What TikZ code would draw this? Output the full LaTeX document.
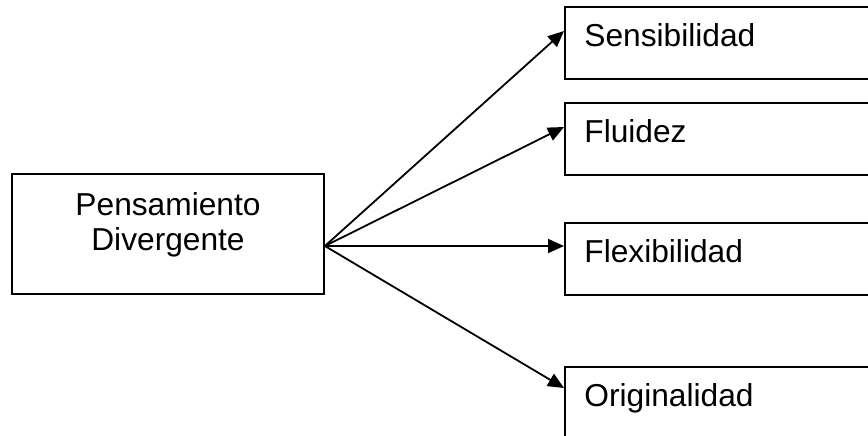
\documentclass[tikz,border=0pt]{standalone}
\usepackage{fontspec}
\setmainfont{Liberation Sans}
\usetikzlibrary{arrows.meta}
\begin{document}
\begin{tikzpicture}[x=0.5pt,y=-0.5pt,
  boxstyle/.style={draw=black,line width=0.9pt,rectangle},
  leafbox/.style={boxstyle,anchor=north west,text width=150pt,align=left,inner xsep=9.75pt,
    minimum height=36pt,text height=0.75em,text depth=0.4em,
    font=\fontsize{15.85pt}{17.5pt}\selectfont},
  rootbox/.style={boxstyle,minimum width=156pt,minimum height=60pt,align=center,
    text height=28.9pt,text depth=12.9pt,
    font=\fontsize{15.85pt}{17.5pt}\selectfont},
  conn/.style={line width=0.9pt,-{Triangle[length=8pt,width=7pt]}}]
\clip (0,0) rectangle (868,435);
\fill[white] (0,0) rectangle (868,435);
\node[rootbox] (root) at (168,234) {Pensamiento\\Divergente};
\node[leafbox] (s) at (564,6) {Sensibilidad};
\node[leafbox] (f) at (564,102) {Fluidez};
\node[leafbox] (x) at (564,222) {Flexibilidad};
\node[leafbox] (o) at (564,366) {Originalidad};
\coordinate (src) at ([yshift=-6pt]root.east);
\draw[conn] (src) -- ([yshift=-12.5pt]s.north west);
\draw[conn] (src) -- ([yshift=-12.5pt]f.north west);
\draw[conn] (src) -- ([yshift=-12pt]x.north west);
\draw[conn] (src) -- ([yshift=-11pt]o.north west);
\end{tikzpicture}
\end{document}
